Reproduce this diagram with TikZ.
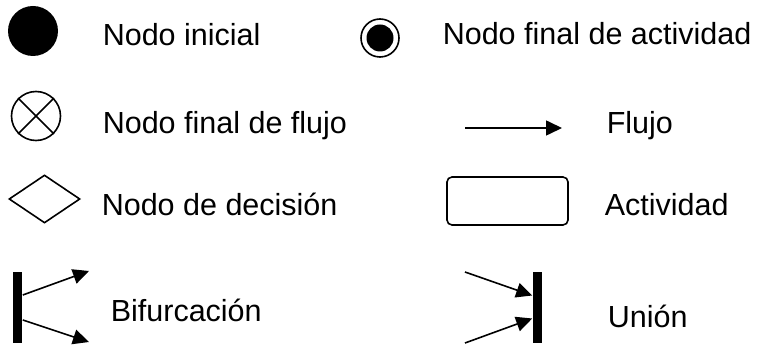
\documentclass[tikz,border=0pt]{standalone}
\usepackage{fontspec}
\setmainfont{Liberation Sans}
\usetikzlibrary{arrows.meta,shapes.geometric}

\tikzset{
  lbl/.style={anchor=base west,inner sep=0pt,font=\fontsize{30.5}{36}\selectfont},
  flow/.style={line width=1.6pt,-{Triangle[length=16pt,width=15pt]}},
  bar/.style={fill=black,inner sep=0pt,minimum width=9pt,minimum height=71pt}
}

\begin{document}
\begin{tikzpicture}[x=1pt,y=-1pt,line width=1.6pt]
  % page
  \useasboundingbox (0,0) rectangle (767,347);

  % symbols
  \node[circle,fill=black,inner sep=0pt,minimum size=50pt] (ini) at (33,31) {};
  \node[circle,draw,inner sep=0pt,minimum size=38pt] (fin) at (380,38) {};
  \node[circle,fill=black,inner sep=0pt,minimum size=27pt] (finin) at (fin) {};
  \node[circle,draw,inner sep=0pt,minimum size=49pt] (ff) at (36,116) {};
  \draw (ff.north west) -- (ff.south east);
  \draw (ff.north east) -- (ff.south west);
  \node[diamond,draw,inner sep=0pt,minimum width=71pt,minimum height=48pt] (dec) at (44.5,199) {};
  \node[draw,rounded corners=5pt,inner sep=0pt,minimum width=121pt,minimum height=48pt] (act) at (507.5,201) {};
  \node[bar] (bif) at (17.5,307.5) {};
  \node[bar] (uni) at (537.5,307.5) {};

  % connectors
  \coordinate (f0) at (465,128);
  \coordinate (f1) at (562,128);
  \draw[flow] (f0) -- (f1);
  \coordinate (b1) at (89,271);
  \coordinate (b2) at (89,342);
  \draw[flow] ([yshift=12.5pt]bif.east) -- (b1);
  \draw[flow] ([yshift=-12.5pt]bif.east) -- (b2);
  \coordinate (u1) at (465,272);
  \coordinate (u2) at (465,343);
  \draw[flow] (u1) -- ([yshift=12pt]uni.west);
  \draw[flow] (u2) -- ([yshift=-11pt]uni.west);

  % labels
  \node[lbl] (tini) at (102,46) {Nodo inicial};
  \node[lbl] (tfin) at (442,45) {Nodo final de actividad};
  \node[lbl] (tff)  at (102,134) {Nodo final de flujo};
  \node[lbl] (tflu) at (606,134) {Flujo};
  \node[lbl] (tdec) at (101,215) {Nodo de decisión};
  \node[lbl] (tact) at (604,215) {Actividad};
  \node[lbl] (tbif) at (110,321) {Bifurcación};
  \node[lbl] (tuni) at (607,327) {Unión};
\end{tikzpicture}
\end{document}
